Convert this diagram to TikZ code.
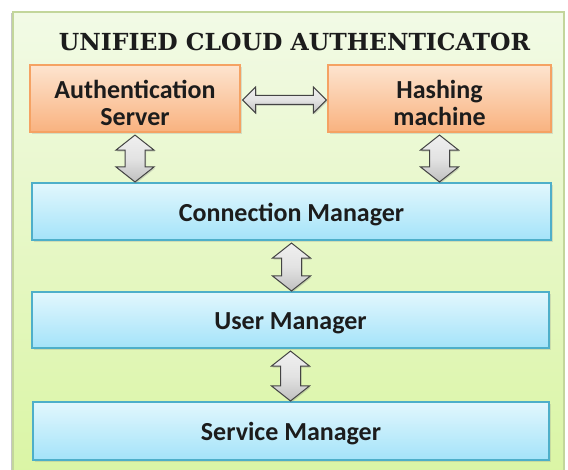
\documentclass[tikz,border=0pt]{standalone}
\usepackage{fontspec}
\setmainfont{Carlito}
\newfontfamily\titlefont{DejaVu Serif}
\usetikzlibrary{calc,shadows}
\definecolor{frameline}{HTML}{C3D69B}
\definecolor{frametop}{HTML}{F2FAE6}
\definecolor{framebot}{HTML}{DAF5A4}
\definecolor{otop}{HTML}{FDE4CF}
\definecolor{obot}{HTML}{F9B27F}
\definecolor{oline}{HTML}{F5A263}
\definecolor{btop}{HTML}{E2F7FD}
\definecolor{bbot}{HTML}{A4E3F9}
\definecolor{bline}{HTML}{4EAFC9}
\definecolor{arrline}{HTML}{444444}
\definecolor{txt}{HTML}{1C1C1C}
\tikzset{
  box/.style={draw, line width=1.1pt, inner sep=0pt,
    drop shadow={shadow xshift=1.5pt, shadow yshift=-2pt, opacity=0.22}},
  boxtext/.style={text=txt, align=center, inner sep=0pt,
    font=\bfseries\fontsize{26}{27}\selectfont},
  obox/.style={box, draw=oline, top color=otop, bottom color=obot},
  bbox/.style={box, draw=bline, top color=btop, bottom color=bbot},
  blockarrow/.style={draw=arrline, line width=1pt, line join=miter,
    top color=gray!12, bottom color=gray!50, middle color=gray!22,
    drop shadow={shadow xshift=1pt, shadow yshift=-1.5pt, opacity=0.3}},
  frame/.style={draw=frameline, line width=2pt, top color=frametop, bottom color=framebot}
}
% vertical double block arrow from node #1 (south) to node #2 (north)
\newcommand\vdblarrow[2]{%
  \path[blockarrow] let \p1=($(#1.south)+(0,2.5)$), \p2=($(#2.north)+(0,-0.5)$) in
    (\x1,\y1) -- ++(19pt,-15pt) -- ++(-9pt,0pt) -- (\x1+10pt,\y2+15pt) -- ++(9pt,0pt)
    -- (\x1,\y2) -- ++(-19pt,15pt) -- ++(9pt,0pt) -- (\x1-10pt,\y1-15pt) -- ++(-9pt,0pt) -- cycle;}
% horizontal double block arrow from node #1 (east) to node #2 (west)
\newcommand\hdblarrow[2]{%
  \path[blockarrow] let \p1=($(#1.east)+(2,1.5)$), \p2=($(#2.west)+(-1,1.5)$) in
    (\x1,\y1) -- ++(13pt,13pt) -- ++(0pt,-8.5pt) -- (\x2-13pt,\y1+4.5pt) -- ++(0pt,8.5pt)
    -- (\x2,\y1) -- ++(-13pt,-13pt) -- ++(0pt,8.5pt) -- (\x1+13pt,\y1-4.5pt) -- ++(0pt,-8.5pt) -- cycle;}
\begin{document}
\begin{tikzpicture}[x=1pt,y=-1pt]
\useasboundingbox (0,0) rectangle (568,470);
% outer frame
\fill[gray!45] (10.5,13) rectangle (13,476);
\path[frame] (13,12) rectangle (564,478);
% title
\node[font=\titlefont\bfseries\fontsize{23.5}{26}\selectfont, text=txt, anchor=base] (title) at (294.5,50.5) {UNIFIED CLOUD AUTHENTICATOR};
% boxes
\node[obox, minimum width=210, minimum height=67,
  label={[boxtext, yshift=-4.5pt]center:Authentication\\Server}] (as) at (135,98.5) {};
\node[obox, minimum width=223, minimum height=67,
  label={[boxtext, yshift=-4.5pt]center:Hashing\\machine}] (hm) at (439.5,98.5) {};
\node[bbox, minimum width=519, minimum height=57,
  label={[boxtext, yshift=-3pt]center:Connection Manager}] (cm) at (291.5,211.5) {};
\node[bbox, minimum width=517, minimum height=56,
  label={[boxtext, yshift=-3.5pt]center:User Manager}] (um) at (290.5,320) {};
\node[bbox, minimum width=516, minimum height=58,
  label={[boxtext, yshift=-2.5pt]center:Service Manager}] (sm) at (291,431) {};
% arrows
\hdblarrow{as}{hm}
\vdblarrow{as}{cm}
\vdblarrow{hm}{cm}
\vdblarrow{cm}{um}
\vdblarrow{um}{sm}
\end{tikzpicture}
\end{document}
